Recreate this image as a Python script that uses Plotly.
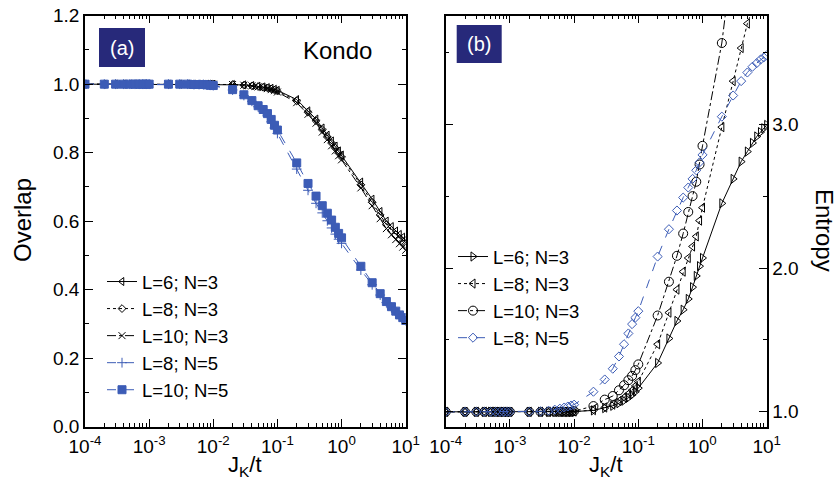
import plotly.graph_objects as go

# ---------------- data ----------------
J = [1e-4, 2e-4, 3e-4, 4e-4, 5e-4, 6e-4, 7e-4, 8e-4, 9e-4,
     1e-3, 2e-3, 3e-3, 4e-3, 5e-3, 6e-3, 7e-3, 8e-3, 9e-3,
     0.01, 0.02, 0.03, 0.04, 0.05, 0.06, 0.07, 0.08, 0.09,
     0.1, 0.2, 0.3, 0.4, 0.5, 0.6, 0.7, 0.8, 0.9,
     1, 2, 3, 4, 5, 6, 7, 8, 9, 10]

# Panel (a): overlap
ov_L6_N3 = [1.0]*18 + [1.0, 0.999, 0.998, 0.996, 0.994, 0.992, 0.990, 0.988, 0.985,
                       0.982, 0.955, 0.922, 0.898, 0.872, 0.851, 0.834, 0.819, 0.805,
                       0.793, 0.714, 0.664, 0.628, 0.600, 0.584, 0.571, 0.561, 0.553, 0.546]
ov_L8_N3 = [1.0]*18 + [1.0, 0.999, 0.997, 0.995, 0.993, 0.991, 0.989, 0.986, 0.983,
                       0.980, 0.951, 0.918, 0.893, 0.867, 0.846, 0.828, 0.813, 0.799,
                       0.787, 0.706, 0.655, 0.618, 0.590, 0.573, 0.560, 0.549, 0.540, 0.532]
ov_L10_N3 = [1.0]*18 + [1.0, 0.999, 0.997, 0.995, 0.992, 0.990, 0.987, 0.984, 0.981,
                        0.977, 0.946, 0.912, 0.886, 0.860, 0.838, 0.820, 0.805, 0.791,
                        0.779, 0.697, 0.645, 0.607, 0.578, 0.560, 0.546, 0.534, 0.524, 0.515]
ov_L8_N5 = [1.0]*9 + [1.0, 1.0, 1.0, 1.0, 0.999, 0.999, 0.999, 0.998, 0.997,
                      0.996, 0.983, 0.967, 0.950, 0.934, 0.921, 0.907, 0.890, 0.872,
                      0.856, 0.752, 0.690, 0.652, 0.624, 0.601, 0.580, 0.562, 0.547,
                      0.535, 0.457, 0.414, 0.384, 0.362, 0.347, 0.335, 0.325, 0.317, 0.309]
ov_L10_N5 = [1.0]*9 + [1.0, 1.0, 1.0, 1.0, 0.999, 0.999, 0.999, 0.998, 0.997,
                       0.996, 0.984, 0.969, 0.952, 0.937, 0.926, 0.914, 0.897, 0.880,
                       0.866, 0.770, 0.710, 0.673, 0.645, 0.623, 0.603, 0.582, 0.564,
                       0.551, 0.468, 0.420, 0.388, 0.365, 0.350, 0.337, 0.326, 0.318, 0.310]

# Panel (b): entropy
en_L6_N3 = [1.0]*18 + [1.002, 1.010, 1.026, 1.042, 1.060, 1.078, 1.098, 1.118, 1.140,
                       1.165, 1.340, 1.510, 1.632, 1.710, 1.785, 1.867, 1.945, 2.013,
                       2.070, 2.450, 2.620, 2.740, 2.810, 2.870, 2.915, 2.945, 2.972, 2.995]
en_L8_N3 = [1.0]*18 + [1.002, 1.012, 1.030, 1.050, 1.075, 1.100, 1.125, 1.150, 1.180,
                       1.210, 1.470, 1.690, 1.850, 1.975, 2.070, 2.150, 2.220, 2.330,
                       2.420, 2.980, 3.300, 3.530, 3.700, 3.800]
en_L10_N3 = [1.0]*18 + [1.005, 1.040, 1.085, 1.110, 1.150, 1.185, 1.220, 1.250, 1.290,
                        1.330, 1.670, 1.905, 2.085, 2.240, 2.390, 2.500, 2.600, 2.720,
                        2.850, 3.565, 4.200]
en_L8_N5 = [1.0]*9 + [1.0, 1.0, 1.003, 1.008, 1.015, 1.022, 1.030, 1.037, 1.044,
                      1.050, 1.140, 1.225, 1.300, 1.385, 1.470, 1.545, 1.610, 1.655,
                      1.700, 2.080, 2.270, 2.400, 2.490, 2.560, 2.620, 2.680, 2.735,
                      2.787, 3.053, 3.200, 3.300, 3.360, 3.400, 3.425, 3.450, 3.465, 3.480]

x_tickvals = [1e-4, 1e-3, 1e-2, 1e-1, 1, 10]
x_ticktext = ["10<sup>-4</sup>", "10<sup>-3</sup>", "10<sup>-2</sup>",
              "10<sup>-1</sup>", "10<sup>0</sup>", "10<sup>1</sup>"]

# ---------------- style ----------------
W, H = 837, 483
BLUE = "#3c5cb6"
NAVY = "#27297a"
FONT = "Liberation Sans, Arial, sans-serif"


def px(x):
    return x / W


def py(y):
    return 1 - y / H


fig = go.Figure()

left_series = [
    ("L=6; N=3", ov_L6_N3, "black", "solid", "triangle-left-open", 7),
    ("L=8; N=3", ov_L8_N3, "black", "dot", "diamond-open", 6),
    ("L=10; N=3", ov_L10_N3, "black", "dashdot", "x-thin-open", 7),
    ("L=8; N=5", ov_L8_N5, BLUE, "dash", "cross-thin-open", 7),
    ("L=10; N=5", ov_L10_N5, BLUE, "dash", "square", 8),
]
for name, ys, col, dash, sym, sz in left_series:
    fig.add_trace(go.Scatter(
        x=J[:len(ys)], y=ys, name=name, mode="lines+markers",
        line=dict(color=col, width=1, dash=dash),
        marker=dict(symbol=sym, size=sz, color=col, line=dict(color=col, width=1)),
        xaxis="x", yaxis="y", legend="legend"))

right_series = [
    ("L=6; N=3", en_L6_N3, "black", "solid", "triangle-right-open", 8),
    ("L=8; N=3", en_L8_N3, "black", "dot", "triangle-left-open", 8),
    ("L=10; N=3", en_L10_N3, "black", "dashdot", "circle-open", 9),
    ("L=8; N=5", en_L8_N5, BLUE, "dash", "diamond-open", 7),
]
for name, ys, col, dash, sym, sz in right_series:
    fig.add_trace(go.Scatter(
        x=J[:len(ys)], y=ys, name=name, mode="lines+markers",
        line=dict(color=col, width=1, dash=dash),
        marker=dict(symbol=sym, size=sz, color=col, line=dict(color=col, width=1)),
        xaxis="x2", yaxis="y2", legend="legend2"))

xax = dict(type="log", range=[-4, 1], tickvals=x_tickvals, ticktext=x_ticktext,
           ticks="inside", ticklen=8, tickwidth=1, tickcolor="black",
           showline=True, linecolor="black", linewidth=1.5, mirror="ticks",
           showgrid=False, zeroline=False, automargin=False, ticklabelstandoff=2,
           minor=dict(ticks="inside", ticklen=4, tickcolor="black", dtick="D1", showgrid=False),
           tickfont=dict(size=19, color="black", family=FONT))

dom_y = [py(426.5), py(15.7)]

fig.update_layout(
    width=W, height=H,
    margin=dict(l=0, r=0, t=0, b=0, autoexpand=False),
    paper_bgcolor="white", plot_bgcolor="white",
    font=dict(family=FONT, color="black"),
    xaxis=dict(xax, domain=[px(85), px(405.7)], anchor="y"),
    xaxis2=dict(xax, domain=[px(445.7), px(766.7)], anchor="y2"),
    yaxis=dict(range=[0, 1.2], dtick=0.2, tick0=0, tickformat=".1f",
               ticks="inside", ticklen=8, tickcolor="black",
               showline=True, linecolor="black", linewidth=1.5, mirror="ticks",
               showgrid=False, zeroline=False, domain=dom_y, anchor="x", automargin=False,
               minor=dict(ticks="inside", ticklen=4, dtick=0.1, tickcolor="black", showgrid=False),
               tickfont=dict(size=19, color="black", family=FONT)),
    yaxis2=dict(range=[0.898, 3.755], dtick=1, tick0=1, tickformat=".1f", side="right",
                ticks="inside", ticklen=8, tickcolor="black",
                showline=True, linecolor="black", linewidth=1.5, mirror="ticks",
                showgrid=False, zeroline=False, domain=dom_y, anchor="x2", automargin=False,
                minor=dict(ticks="inside", ticklen=4, dtick=0.5, tick0=1, tickcolor="black", showgrid=False),
                tickfont=dict(size=19, color="black", family=FONT)),
    legend=dict(x=px(102), y=py(263), xanchor="left", yanchor="top",
                bgcolor="rgba(0,0,0,0)", font=dict(size=18.5, family=FONT, color="black"),
                tracegroupgap=0, itemwidth=30),
    legend2=dict(x=px(453), y=py(238), xanchor="left", yanchor="top",
                 bgcolor="rgba(0,0,0,0)", font=dict(size=18.5, family=FONT, color="black"),
                 tracegroupgap=0, itemwidth=30),
    showlegend=True,
)

annos = [
    dict(text="Overlap", x=px(22), y=py(220), textangle=-90, font=dict(size=24)),
    dict(text="Entropy", x=px(825), y=py(230), textangle=90, font=dict(size=24)),
    dict(text="J<sub>K</sub>/t", x=px(245), y=py(466), font=dict(size=22)),
    dict(text="J<sub>K</sub>/t", x=px(606), y=py(466), font=dict(size=22)),
    dict(text="Kondo", x=px(337), y=py(50), font=dict(size=24)),
    dict(text="(a)", x=px(122), y=py(47.5), font=dict(size=20, color="white")),
    dict(text="(b)", x=px(479), y=py(44), font=dict(size=20, color="white")),
]
for a in annos:
    fig.add_annotation(xref="paper", yref="paper", showarrow=False,
                       xanchor="center", yanchor="middle", **a)

fig.add_shape(type="rect", xref="paper", yref="paper",
              x0=px(99), x1=px(145), y0=py(67), y1=py(28),
              fillcolor=NAVY, line=dict(width=0), layer="below")
fig.add_shape(type="rect", xref="paper", yref="paper",
              x0=px(456.7), x1=px(501.7), y0=py(63), y1=py(25),
              fillcolor=NAVY, line=dict(width=0), layer="below")

fig.write_html("out.html", config={"displayModeBar": False},
               post_script="document.body.style.margin='0';document.body.style.padding='0';")
